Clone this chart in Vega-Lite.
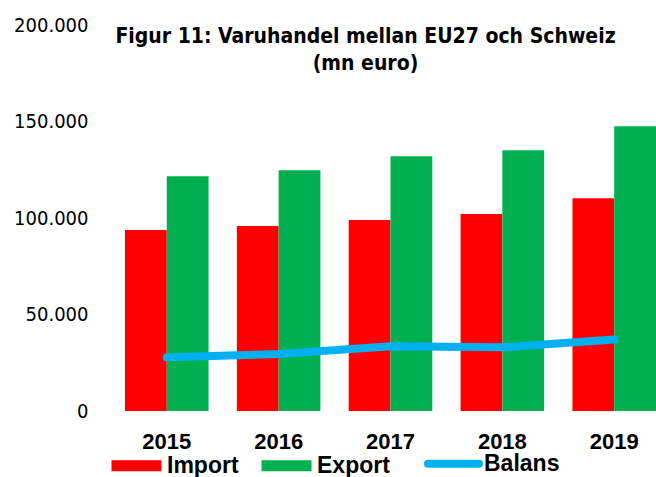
{
  "$schema": "https://vega.github.io/schema/vega-lite/v6.json",
  "autosize": {"type": "none"},
  "padding": {"left": 125, "top": 25, "right": 0, "bottom": 66},
  "width": 531,
  "height": 386,
  "background": "white",
  "title": {
    "text": ["Figur 11: Varuhandel mellan EU27 och Schweiz", "(mn euro)"],
    "font": "DejaVu Sans Condensed",
    "fontWeight": "bold",
    "fontSize": 21,
    "color": "black",
    "anchor": "middle",
    "baseline": "top",
    "offset": -59,
    "dx": -25,
    "lineHeight": 27
  },
  "data": {
    "values": [
      {"year": "2015", "series": "Import", "value": 93800},
      {"year": "2015", "series": "Export", "value": 121600},
      {"year": "2015", "series": "Balans", "value": 27800},
      {"year": "2016", "series": "Import", "value": 95900},
      {"year": "2016", "series": "Export", "value": 124700},
      {"year": "2016", "series": "Balans", "value": 29500},
      {"year": "2017", "series": "Import", "value": 99000},
      {"year": "2017", "series": "Export", "value": 132000},
      {"year": "2017", "series": "Balans", "value": 33500},
      {"year": "2018", "series": "Import", "value": 102100},
      {"year": "2018", "series": "Export", "value": 135100},
      {"year": "2018", "series": "Balans", "value": 33000},
      {"year": "2019", "series": "Import", "value": 110200},
      {"year": "2019", "series": "Export", "value": 147500},
      {"year": "2019", "series": "Balans", "value": 37100}
    ]
  },
  "encoding": {
    "x": {
      "field": "year",
      "type": "nominal",
      "scale": {"paddingInner": 0.253, "paddingOuter": 0},
      "axis": {
        "title": null,
        "labelAngle": 0,
        "ticks": false,
        "domain": false,
        "labelPadding": 20,
        "labelFont": "Liberation Sans",
        "labelFontWeight": "bold",
        "labelFontSize": 22,
        "labelColor": "black"
      }
    },
    "y": {
      "field": "value",
      "type": "quantitative",
      "scale": {"domain": [0, 200000], "nice": false},
      "axis": {
        "title": null,
        "values": [0, 50000, 100000, 150000, 200000],
        "labelExpr": "datum.value == 0 ? '0' : format(datum.value / 1000, 'd') + '.000'",
        "ticks": false,
        "domain": false,
        "grid": false,
        "labelPadding": 37,
        "labelFont": "DejaVu Sans Condensed",
        "labelFontSize": 20,
        "labelColor": "black"
      }
    },
    "color": {
      "field": "series",
      "type": "nominal",
      "scale": {
        "domain": ["Import", "Export", "Balans"],
        "range": ["#FF0000", "#00B050", "#00B0F0"]
      },
      "legend": {
        "title": null,
        "orient": "none",
        "direction": "horizontal",
        "legendX": 0,
        "legendY": 427,
        "labelFont": "Liberation Sans",
        "labelFontWeight": "bold",
        "labelFontSize": 23,
        "labelColor": "black",
        "labelOffset": 19,
        "columnPadding": 22,
        "symbolSize": 2500,
        "encode": {
          "symbols": {
            "update": {
              "shape": {"signal": "datum.label === 'Balans' ? 'M-1.02,0H1.02' : 'M-1,-0.22H1V0.22H-1Z'"},
              "size": {"value": 2500},
              "fill": {"signal": "datum.label === 'Balans' ? 'transparent' : (datum.label === 'Import' ? '#FF0000' : '#00B050')"},
              "stroke": {"signal": "datum.label === 'Balans' ? '#00B0F0' : 'transparent'"},
              "strokeWidth": {"signal": "datum.label === 'Balans' ? 8 : 0"},
              "strokeCap": {"value": "round"},
              "opacity": {"value": 1}
            }
          }
        }
      }
    }
  },
  "layer": [
    {
      "transform": [{"filter": "datum.series !== 'Balans'"}],
      "mark": {"type": "bar", "opacity": 1},
      "encoding": {
        "xOffset": {"field": "series", "type": "nominal", "scale": {"domain": ["Import", "Export"], "paddingInner": 0, "paddingOuter": 0}}
      }
    },
    {
      "transform": [{"filter": "datum.series === 'Balans'"}],
      "mark": {"type": "line", "strokeWidth": 8, "strokeCap": "round", "strokeJoin": "round"},
      "encoding": {}
    }
  ],
  "config": {
    "view": {"stroke": null},
    "axis": {"grid": false}
  }
}
